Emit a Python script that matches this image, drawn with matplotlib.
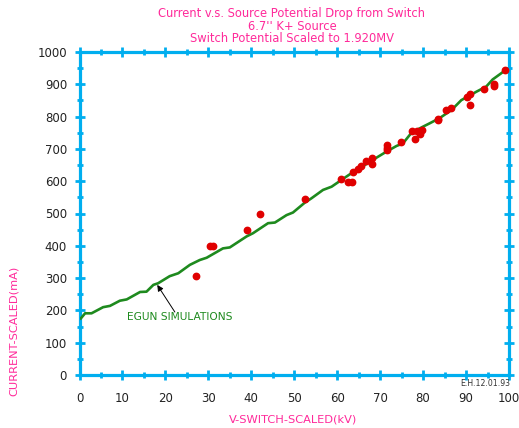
import matplotlib
matplotlib.use("Agg")
import matplotlib.pyplot as plt
from matplotlib.ticker import MultipleLocator

# EGUN simulation curve: switch voltage (kV) vs beam current (mA)
sim_kv = [0.3, 1.3, 2.8, 5.5, 7.1, 9.4, 11.0, 14.1, 15.6, 17.2, 18.3, 21.0, 23.0,
          25.7, 28.0, 29.6, 33.4, 35.0, 38.9, 40.4, 43.9, 45.5, 48.2, 49.7, 52.4,
          54.0, 56.7, 58.7, 61.0, 62.9, 65.2, 68.3, 71.4, 73.8, 75.3, 77.3, 80.0,
          81.5, 83.8, 86.6, 88.9, 90.4, 92.4, 94.7, 96.2, 99.0]
sim_ma = [175, 191, 191, 210, 214, 230, 234, 257, 258, 279, 284, 306, 315,
          341, 356, 363, 392, 395, 429, 439, 470, 472, 495, 503, 533,
          547, 573, 583, 604, 621, 640, 666, 691, 709, 717, 750, 769,
          779, 795, 820, 851, 862, 877, 893, 915, 942]

# Measured shots
meas_kv = [27.1, 30.5, 31.0, 39.0, 42.0, 52.4, 60.8, 62.5, 63.5, 63.7, 64.9, 65.5,
           66.8, 68.0, 68.1, 71.7, 71.7, 71.7, 74.8, 77.4, 78.0, 78.6, 79.2, 79.7,
           83.4, 83.5, 85.4, 86.6, 90.3, 91.0, 91.0, 94.1, 96.5, 96.6, 99.1]
meas_ma = [306, 399, 399, 449, 498, 545, 606, 597, 597, 630, 639, 647,
           663, 671, 654, 711, 703, 697, 721, 755, 730, 755, 746, 760,
           793, 788, 820, 828, 862, 870, 836, 885, 900, 895, 944]

x_ticks = [0, 10, 20, 30, 40, 50, 60, 70, 80, 90, 100]
y_ticks = [0, 100, 200, 300, 400, 500, 600, 700, 800, 900, 1000]

title_lines = ["Current v.s. Source Potential Drop from Switch",
               "6.7'' K+ Source",
               "Switch Potential Scaled to 1.920MV"]

PINK = "#ff2a9a"
BLUE = "#00aeef"
GREEN = "#1e8a1e"
RED = "#e00000"

W, H = 519, 428
fig = plt.figure(figsize=(W / 100, H / 100), dpi=100)
ax = fig.add_axes([79.5 / W, 1 - 375 / H, (509 - 79.5) / W, (375 - 52) / H])

ax.plot(sim_kv, sim_ma, color=GREEN, lw=1.9, zorder=3)
ax.plot(meas_kv, meas_ma, "o", color=RED, ms=4.6, mec=RED, zorder=4)

ax.set_xlim(0, 100)
ax.set_ylim(0, 1000)
ax.set_xticks(x_ticks)
ax.set_yticks(y_ticks)
ax.xaxis.set_minor_locator(MultipleLocator(5))
ax.yaxis.set_minor_locator(MultipleLocator(50))

for s in ax.spines.values():
    s.set_color(BLUE)
    s.set_linewidth(2.3)

ax.tick_params(which="both", direction="inout", color=BLUE,
               top=True, right=True, labelsize=8.5, labelcolor="#222222")
ax.tick_params(which="major", length=7, width=2.0)
ax.tick_params(which="minor", length=4, width=2.0)
ax.tick_params(axis="x", which="major", pad=9)
ax.tick_params(axis="y", which="major", pad=5.5)

# Label and pointer for the simulation curve
ax.text(23.4, 180, "EGUN SIMULATIONS", color=GREEN, fontsize=7.7,
        ha="center", va="center")
ax.annotate("", xy=(18.1, 279), xytext=(22.2, 195),
            arrowprops=dict(arrowstyle="-|>", color="black", lw=0.7,
                            mutation_scale=9, shrinkA=0, shrinkB=0))

for i, line in enumerate(title_lines):
    fig.text(292 / W, 1 - (14 + 12 * i) / H, line, color=PINK,
             fontsize=8.3, ha="center", va="center")

fig.text(293 / W, 1 - 420 / H, "V-SWITCH-SCALED(kV)", color=PINK,
         fontsize=8.2, ha="center", va="center")
fig.text(14 / W, 1 - 331 / H, "CURRENT-SCALED(mA)", color=PINK,
         fontsize=8.2, ha="center", va="center", rotation=90)
fig.text(485 / W, 1 - 384 / H, "E.H.12.01.93", color="#333333",
         fontsize=5.6, ha="center", va="center")

fig.savefig("out.png", dpi=100)
